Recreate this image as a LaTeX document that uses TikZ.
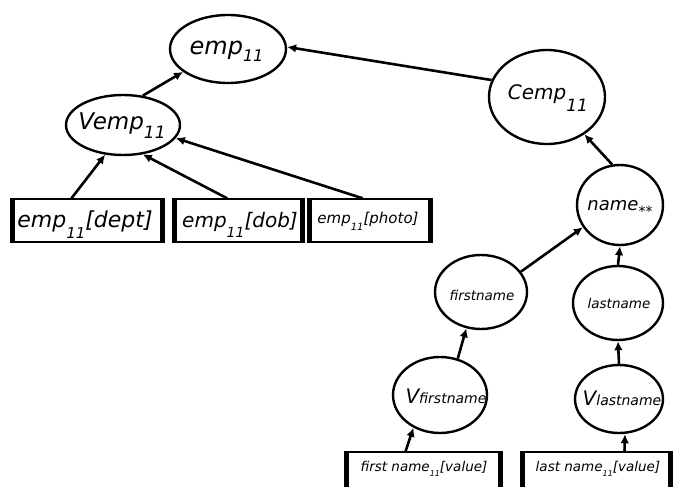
\documentclass[tikz,border=0pt]{standalone}
\usepackage{fontspec}
\setmainfont{DejaVu Sans}
\usetikzlibrary{shapes.geometric,arrows.meta,calc}
\newcommand\lsub[3]{\raisebox{-#1}{\fontsize{#2}{#2}\selectfont #3}}
\newcommand\fsz[1]{\fontsize{#1}{#1}\selectfont}
\begin{document}
\begin{tikzpicture}[x=1pt,y=-1pt,
  ell/.style={ellipse,draw,line width=2.4pt,inner sep=0pt},
  box/.style={rectangle,draw,line width=1.3pt,inner sep=0pt,minimum height=43},
  lbl/.style={anchor=base,inner sep=0pt,font=\itshape},
  arr/.style={line width=2.6pt,-{Latex[length=9pt,width=8.5pt]}},
  bar/.style={line width=4.5pt}]
\useasboundingbox (0,0) rectangle (673,487);

% ellipses
\node[ell,minimum width=116,minimum height=68] (emp) at (228,49) {};
\node[ell,minimum width=114,minimum height=60] (vemp) at (123,125) {};
\node[ell,minimum width=116,minimum height=94] (cemp) at (547,97) {};
\node[ell,minimum width=86,minimum height=80] (name) at (620,205) {};
\node[ell,minimum width=92,minimum height=74] (fn) at (481,292) {};
\node[ell,minimum width=90,minimum height=74] (ln) at (618,303) {};
\node[ell,minimum width=94,minimum height=76] (vfn) at (440,395) {};
\node[ell,minimum width=88,minimum height=68] (vln) at (619,399) {};

% ellipse texts
\node[lbl] (emp-t) at (226.5,55) {\fsz{24}emp\lsub{7pt}{16}{11}};
\node[lbl] (vemp-t) at (122,130) {\fsz{23}Vemp\lsub{9pt}{17}{11}};
\node[lbl] (cemp-t) at (548,100) {\fsz{20}Cemp\lsub{12pt}{17}{11}};
\node[lbl] (name-t) at (620,210) {\fsz{18}name\lsub{6pt}{14}{**}};
\node[lbl] (fn-t) at (482,300) {\fsz{13.5}firstname};
\node[lbl] (ln-t) at (619,308) {\fsz{13.5}lastname};
\node[lbl] (vfn-t) at (446,403) {\fsz{20}V\fsz{14}firstname};
\node[lbl] (vln-t) at (622,405) {\fsz{20}V\fsz{14}lastname};

% top boxes
\node[box,minimum width=149] (dept) at (87.5,220.5) {};
\node[box,minimum width=127] (dob) at (238.5,220.5) {};
\node[box,minimum width=120] (photo) at (370,220.5) {};
\foreach \b in {dept,dob,photo}{
  \draw[bar] (\b.north west) -- (\b.south west);
  \draw[bar] (\b.north east) -- (\b.south east);
}
\node[lbl] (dept-t) at (85,227) {\fsz{22}emp\lsub{11pt}{15}{11}[dept]};
\node[lbl] (dob-t) at (240,227) {\fsz{20}emp\lsub{10pt}{14}{11}[dob]};
\node[lbl] (photo-t) at (368,223) {\fsz{15}emp\lsub{7pt}{10}{11}[photo]};

% bottom boxes (cut by the lower edge)
\begin{scope}
\clip (0,0) rectangle (673,487);
\node[box,minimum width=153] (fnbox) at (423.5,473.5) {};
\node[box,minimum width=147] (lnbox) at (596.5,473.5) {};
\foreach \b in {fnbox,lnbox}{
  \draw[bar] (\b.north west) -- (\b.south west);
  \draw[bar] (\b.north east) -- (\b.south east);
}
\end{scope}
\node[lbl] (fnbox-t) at (424,471) {\fsz{13.5}first name\lsub{5pt}{8}{11}[value]};
\node[lbl] (lnbox-t) at (598,471) {\fsz{13.5}last name\lsub{5pt}{8}{11}[value]};

% connectors
\draw[arr] (vemp.56) -- (emp.207);
\draw[arr] (dept.126) -- (vemp.239);
\draw[arr] (dob.117) -- (vemp.304);
\draw[arr] (photo.108) -- (vemp.346);
\draw[arr] (cemp.163) -- (emp.2);
\draw[arr] (name.101) -- (cemp.315);
\draw[arr] (fn.27) -- (name.211);
\draw[arr] (ln.north) -- (name.south);
\draw[arr] (vfn.64) -- (fn.248);
\draw[arr] (vln.north) -- (ln.south);
\draw[arr] ($(fnbox.north)+(-18,0)$) -- (vfn.231);
\draw[arr] ($(lnbox.north)+(28,0)$) -- ($(vln.south)+(6,0)$);
\end{tikzpicture}
\end{document}
